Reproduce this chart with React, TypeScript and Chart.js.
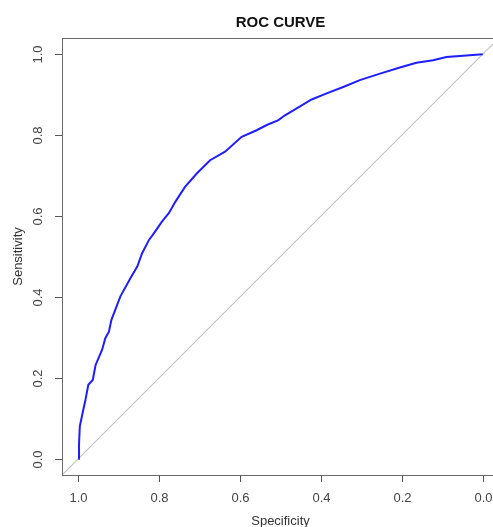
import React, { useEffect, useRef } from "react";
import { Chart, registerables } from "chart.js";

Chart.register(...registerables);

const specificity = [
  1.0, 0.998, 0.996, 0.99, 0.982, 0.975, 0.964, 0.957, 0.941, 0.933, 0.924, 0.918,
  0.896, 0.871, 0.854, 0.842, 0.825, 0.813, 0.793, 0.776, 0.76, 0.736, 0.707, 0.674,
  0.637, 0.596, 0.559, 0.534, 0.505, 0.489, 0.46, 0.423, 0.386, 0.345, 0.304, 0.254,
  0.205, 0.164, 0.123, 0.09, 0.049, 0.0,
];
const sensitivity = [
  0.0, 0.035, 0.08, 0.109, 0.146, 0.183, 0.195, 0.232, 0.269, 0.298, 0.314, 0.343,
  0.401, 0.446, 0.475, 0.508, 0.541, 0.557, 0.586, 0.607, 0.635, 0.672, 0.705, 0.738,
  0.759, 0.796, 0.812, 0.825, 0.837, 0.849, 0.866, 0.888, 0.903, 0.919, 0.936, 0.952,
  0.967, 0.979, 0.985, 0.993, 0.996, 1.0,
];
const tickValues = [0, 0.2, 0.4, 0.6, 0.8, 1.0];
const tickLabels = ["0.0", "0.2", "0.4", "0.6", "0.8", "1.0"];
const titleText = "ROC CURVE";
const xTitle = "Specificity";
const yTitle = "Sensitivity";

const FONT = '"Liberation Sans", Arial, sans-serif';

const rAxesPlugin = {
  id: "rAxes",
  afterDraw(chart: any) {
    const ctx = chart.ctx;
    const xs = chart.scales.x;
    const ys = chart.scales.y;
    const a = chart.chartArea;
    ctx.save();
    // box
    ctx.strokeStyle = "#6a6a6a";
    ctx.lineWidth = 1;
    ctx.strokeRect(Math.round(a.left) + 0.5, Math.round(a.top) + 0.5, Math.round(a.right - a.left), Math.round(a.bottom - a.top));
    // ticks
    ctx.strokeStyle = "#555555";
    ctx.fillStyle = "#444444";
    ctx.font = `13px ${FONT}`;
    tickValues.forEach((v, i) => {
      const px = Math.round(xs.getPixelForValue(v)) + 0.5;
      ctx.beginPath();
      ctx.moveTo(px, a.bottom);
      ctx.lineTo(px, a.bottom + 7);
      ctx.stroke();
      ctx.textAlign = "center";
      ctx.textBaseline = "middle";
      ctx.fillText(tickLabels[i], px, 498);

      const py = Math.round(ys.getPixelForValue(v)) + 0.5;
      ctx.beginPath();
      ctx.moveTo(a.left, py);
      ctx.lineTo(a.left - 7, py);
      ctx.stroke();
      ctx.save();
      ctx.translate(38, py);
      ctx.rotate(-Math.PI / 2);
      ctx.textAlign = "center";
      ctx.textBaseline = "middle";
      ctx.fillText(tickLabels[i], 0, 0);
      ctx.restore();
    });
    // axis titles
    ctx.fillStyle = "#333333";
    ctx.textAlign = "center";
    ctx.textBaseline = "middle";
    ctx.fillText(xTitle, (a.left + a.right) / 2, 521);
    ctx.save();
    ctx.translate(18, (a.top + a.bottom) / 2);
    ctx.rotate(-Math.PI / 2);
    ctx.fillText(yTitle, 0, 0);
    ctx.restore();
    // title
    ctx.fillStyle = "#111111";
    ctx.font = `bold 15px ${FONT}`;
    ctx.fillText(titleText, (a.left + a.right) / 2, 23);
    ctx.restore();
  },
};

export default function App() {
  const ref = useRef<HTMLCanvasElement | null>(null);
  useEffect(() => {
    if (!ref.current) return;
    const rocData = specificity.map((s, i) => ({ x: s, y: sensitivity[i] }));
    const chart = new Chart(ref.current, {
      type: "line",
      data: {
        datasets: [
          {
            data: rocData,
            borderColor: "#1e1eff",
            borderWidth: 2,
            pointRadius: 0,
            tension: 0,
            fill: false,
          },
          {
            data: [
              { x: 1.04, y: -0.04 },
              { x: -0.04, y: 1.04 },
            ],
            borderColor: "#c4c4c4",
            borderWidth: 1.2,
            pointRadius: 0,
            tension: 0,
            fill: false,
          },
        ],
      },
      options: {
        responsive: false,
        animation: false,
        layout: { padding: { left: 62, right: 11, top: 38, bottom: 52 } },
        plugins: {
          legend: { display: false },
          tooltip: { enabled: false },
          title: { display: false },
        },
        scales: {
          x: { type: "linear", min: -0.04, max: 1.04, reverse: true, display: false },
          y: { type: "linear", min: -0.04, max: 1.04, display: false },
        },
      },
      plugins: [rAxesPlugin],
    });
    return () => chart.destroy();
  }, []);
  return (
    <div
      style={{
        position: "absolute",
        left: 0,
        top: 0,
        width: 493,
        height: 527,
        overflow: "hidden",
        background: "#ffffff",
      }}
    >
      <canvas ref={ref} width={510} height={527} style={{ display: "block" }} />
    </div>
  );
}
